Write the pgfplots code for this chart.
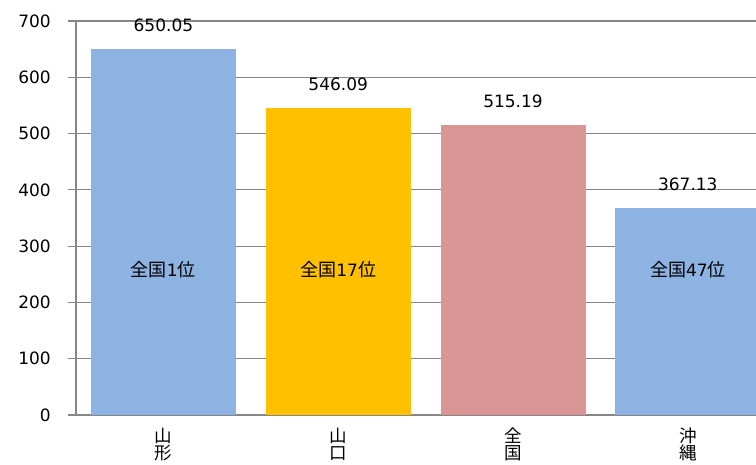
\documentclass[border=0pt]{standalone}
\usepackage{pgfplots}
\pgfplotsset{compat=1.18}
\usepackage{fontspec}
\setmainfont{DejaVu Sans}
\newfontfamily\cjk{Noto Sans CJK JP}
\definecolor{cblue}{HTML}{8DB3E2}
\definecolor{cyellow}{HTML}{FFC000}
\definecolor{cpink}{HTML}{D99694}
\definecolor{axgray}{HTML}{868686}
\begin{document}
\begin{tikzpicture}
\begin{axis}[
  at={(0,0)}, anchor=south west,
  scale only axis, width=680pt, height=394pt,
  xmin=-0.5, xmax=3.39, ymin=0, ymax=700,
  axis lines*=left,
  axis line style={axgray, line width=1.2pt},
  ytick={0,100,...,700},
  ymajorgrids, grid style={axgray, line width=1.2pt},
  ytick style={axgray, line width=1.2pt},
  tick align=outside,
  major tick length=8pt,
  xtick={0,1,2,3},
  xticklabels={山\\形, 山\\口, 全\\国, 沖\\縄},
  xtick style={draw=none},
  extra x ticks={-0.5,0.5,1.5,2.5},
  extra x tick labels={},
  extra x tick style={tick style={axgray, line width=1.2pt}, major tick length=6pt, grid=none},
  xticklabel style={font=\cjk\fontsize{17.5}{17}\selectfont, align=center, inner sep=0pt, yshift=-5pt},
  yticklabel style={font=\fontsize{17}{20}\selectfont, inner sep=0pt, xshift=-17pt},
  /pgf/number format/assume math mode=true,
  bar width=145pt,
  nodes near coords,
  point meta=explicit symbolic,
  nodes near coords style={font=\fontsize{17}{20}\selectfont, anchor=south, inner sep=0pt, yshift=17pt},
  axis on top=false,
]
\addplot[ybar, bar shift=0pt, fill=cblue, draw=none] coordinates {(0,650.05) [650.05]};
\addplot[ybar, bar shift=0pt, fill=cyellow, draw=none] coordinates {(1,546.09) [546.09]};
\addplot[ybar, bar shift=0pt, fill=cpink, draw=none] coordinates {(2,515.19) [515.19]};
\addplot[ybar, bar shift=0pt, fill=cblue, draw=none] coordinates {(3,367.13) [367.13]};
\node[font=\fontsize{17}{20}\selectfont] at (axis cs:0,258) {{\cjk\fontsize{18}{20}\selectfont 全国}1{\cjk\fontsize{18}{20}\selectfont 位}};
\node[font=\fontsize{17}{20}\selectfont] at (axis cs:1,258) {{\cjk\fontsize{18}{20}\selectfont 全国}17{\cjk\fontsize{18}{20}\selectfont 位}};
\node[font=\fontsize{17}{20}\selectfont] at (axis cs:3,258) {{\cjk\fontsize{18}{20}\selectfont 全国}47{\cjk\fontsize{18}{20}\selectfont 位}};
\end{axis}
\pgfresetboundingbox
\path (-76pt,-49pt) rectangle (680pt,415pt);
\end{tikzpicture}
\end{document}
